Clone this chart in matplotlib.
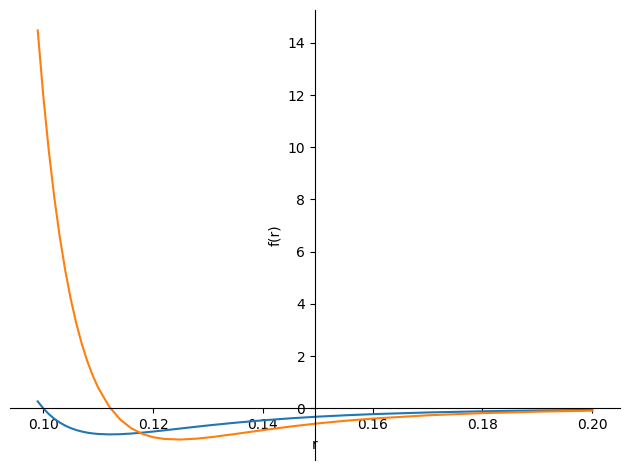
import matplotlib
matplotlib.use("Agg")
import matplotlib.pyplot as plt

# sample positions r and values
r = [0.099, 0.100, 0.101, 0.102, 0.103, 0.104, 0.105, 0.106, 0.107, 0.108,
     0.109, 0.110, 0.112, 0.114, 0.116, 0.118, 0.120, 0.122, 0.125, 0.128,
     0.131, 0.135, 0.140, 0.145, 0.150, 0.155, 0.160, 0.170, 0.180, 0.190,
     0.200]

blue = [0.264, 0.0, -0.218, -0.398, -0.544, -0.663, -0.758, -0.832, -0.889,
        -0.932, -0.963, -0.983, -1.000, -0.992, -0.968, -0.933, -0.891,
        -0.845, -0.774, -0.703, -0.635, -0.552, -0.461, -0.384, -0.320,
        -0.268, -0.224, -0.159, -0.114, -0.083, -0.062]

orange = [14.475, 12.0, 9.895, 8.106, 6.586, 5.294, 4.200, 3.271, 2.486,
          1.823, 1.264, 0.794, 0.072, -0.426, -0.761, -0.977, -1.106,
          -1.173, -1.197, -1.162, -1.095, -0.983, -0.836, -0.699, -0.579,
          -0.478, -0.394, -0.268, -0.185, -0.129, -0.091]

fig, ax = plt.subplots(figsize=(6.3, 4.69), dpi=100)
ax.plot(r, blue)
ax.plot(r, orange)

# axes crossing like a sympy plot
ax.spines["left"].set_position("center")
ax.spines["bottom"].set_position("zero")
ax.spines["right"].set_visible(False)
ax.spines["top"].set_visible(False)
ax.xaxis.set_ticks_position("bottom")
ax.yaxis.set_ticks_position("left")

ax.set_xlabel("r")
ax.set_ylabel("f(r)")

plt.subplots_adjust(left=10 / 630, right=620 / 630, top=1 - 10 / 469, bottom=1 - 460 / 469)
plt.savefig("out.png")
